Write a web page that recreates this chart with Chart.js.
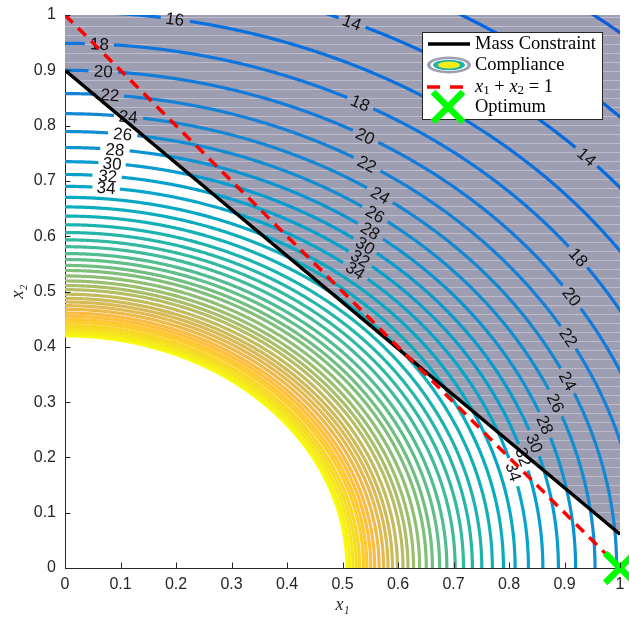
<!DOCTYPE html>
<html><head><meta charset="utf-8">
<script src="https://cdn.jsdelivr.net/npm/chart.js@4/dist/chart.umd.min.js"></script>
<style>html,body{margin:0;padding:0;background:#fff}</style>
</head><body>
<canvas id="c" width="629" height="626"></canvas>
<script>
// ---------- data ----------
const levels = [10,12,14,16,18,20,22,24,26,28,30,32,34,36,38,40,42,44,46,48,50,52,54,56,58,60,62,64,66,68,70,72,74,76,78,80,82,84,86,88,90,92];
// where each compliance contour meets the x1 axis (x2 = 0)
const x1Intercepts = [1.540,1.405,1.301,1.217,1.148,1.089,1.038,0.994,0.955,0.920,0.889,0.861,0.835,0.811,0.790,0.770,0.751,0.734,0.718,0.703,0.688,0.675,0.662,0.651,0.639,0.628,0.618,0.609,0.599,0.590,0.582,0.574,0.566,0.558,0.551,0.544,0.538,0.531,0.525,0.519,0.513,0.508];
// x2-axis crossing / x1-axis crossing for every contour
const axisRatio = 0.8265;
// contour labels: level and x1 of the label centre
const labelLevels = [16,18,20,22,24,26,28,30,32,34, 14,18,20,22,24,26,28,30,32,34, 14,18,20,22,24,26,28,30,32,34];
const labelX1 =     [0.198,0.062,0.069,0.081,0.114,0.104,0.090,0.085,0.077,0.074,
                     0.517,0.532,0.541,0.544,0.568,0.559,0.550,0.541,0.532,0.523,
                     0.940,0.925,0.913,0.907,0.906,0.884,0.865,0.846,0.826,0.808];
const massX = [0, 1];
const massY = [0.9, 0.061];
const sumX = [0, 1];
const sumY = [1, 0];
const optimumX = [1];
const optimumY = [0];
const tickValues = [0,0.1,0.2,0.3,0.4,0.5,0.6,0.7,0.8,0.9,1];
const tickLabels = ['0','0.1','0.2','0.3','0.4','0.5','0.6','0.7','0.8','0.9','1'];
const colorMin = 0, colorMax = 92;

// ---------- parula colormap ----------
const PARULA=[[0.2081,0.1663,0.5292],[0.2116,0.1898,0.5777],[0.2123,0.2138,0.6270],[0.2081,0.2386,0.6771],[0.1959,0.2645,0.7279],[0.1707,0.2919,0.7792],[0.1253,0.3242,0.8303],[0.0591,0.3598,0.8683],[0.0117,0.3875,0.8820],[0.0060,0.4086,0.8828],[0.0165,0.4266,0.8786],[0.0329,0.4430,0.8720],[0.0498,0.4586,0.8641],[0.0629,0.4737,0.8554],[0.0723,0.4887,0.8467],[0.0779,0.5040,0.8384],[0.0793,0.5200,0.8312],[0.0749,0.5375,0.8263],[0.0641,0.5570,0.8240],[0.0488,0.5772,0.8228],[0.0343,0.5966,0.8199],[0.0265,0.6137,0.8135],[0.0239,0.6287,0.8038],[0.0231,0.6418,0.7913],[0.0228,0.6535,0.7768],[0.0267,0.6642,0.7607],[0.0384,0.6743,0.7436],[0.0590,0.6838,0.7254],[0.0843,0.6928,0.7062],[0.1133,0.7015,0.6859],[0.1453,0.7098,0.6646],[0.1801,0.7177,0.6424],[0.2178,0.7250,0.6193],[0.2586,0.7317,0.5954],[0.3022,0.7376,0.5712],[0.3482,0.7424,0.5473],[0.3953,0.7459,0.5244],[0.4420,0.7481,0.5033],[0.4871,0.7491,0.4840],[0.5300,0.7491,0.4661],[0.5709,0.7485,0.4494],[0.6099,0.7473,0.4337],[0.6473,0.7456,0.4188],[0.6834,0.7435,0.4044],[0.7184,0.7411,0.3905],[0.7525,0.7384,0.3768],[0.7858,0.7356,0.3633],[0.8185,0.7327,0.3498],[0.8507,0.7299,0.3360],[0.8824,0.7274,0.3217],[0.9139,0.7258,0.3063],[0.9450,0.7261,0.2886],[0.9739,0.7314,0.2666],[0.9938,0.7455,0.2403],[0.9990,0.7653,0.2164],[0.9955,0.7861,0.1967],[0.9880,0.8066,0.1794],[0.9789,0.8271,0.1633],[0.9697,0.8481,0.1475],[0.9626,0.8705,0.1309],[0.9589,0.8949,0.1132],[0.9598,0.9218,0.0948],[0.9661,0.9514,0.0755],[0.9763,0.9831,0.0538]];
function parula(t){
  t=Math.max(0,Math.min(1,t)); const f=t*63, i=Math.floor(f), j=Math.min(63,i+1), u=f-i;
  const c=PARULA[i].map((v,k)=>Math.round((v+(PARULA[j][k]-v)*u)*255));
  return 'rgb('+c.join(',')+')';
}

// ---------- geometry helpers ----------
const PXU_X = 555, PXU_Y = 553;   // approx. pixels per unit (for label gaps only)
const GAP_R = 13.5;
function onContour(li, x){ const a=x1Intercepts[li], b=a*axisRatio; return b*Math.sqrt(Math.max(0,1-(x*x)/(a*a))); }
function contourPoints(li){
  const a=x1Intercepts[li], b=a*axisRatio, lev=levels[li];
  const labs=[];
  labelLevels.forEach((L,k)=>{ if(L===lev) labs.push([labelX1[k], onContour(li,labelX1[k])]); });
  const N=Math.ceil(a*PXU_X*1.6/2);
  const pts=[]; let inGap=false;
  for(let k=0;k<=N;k++){
    const t=k/N*Math.PI/2, x=a*Math.cos(t), y=b*Math.sin(t);
    if(x>1.01||y>1.01) continue;
    const g=labs.some(p=>Math.hypot((x-p[0])*PXU_X,(y-p[1])*PXU_Y)<GAP_R);
    if(g){ if(!inGap){pts.push({x:x,y:null}); inGap=true;} continue; }
    inGap=false; pts.push({x:x,y:y});
  }
  return pts;
}

// striped grey pattern for the infeasible region
const pc=document.createElement('canvas'); pc.width=8; pc.height=9;
const pctx=pc.getContext('2d'); pctx.fillStyle='rgb(158,158,178)'; pctx.fillRect(0,0,8,9);
pctx.fillStyle='rgb(188,188,204)'; pctx.fillRect(0,8,8,1);
const greyPattern=pctx.createPattern(pc,'repeat');

const datasets=[];
datasets.push({data:massX.map((x,i)=>({x:x,y:massY[i]})), borderWidth:0, pointRadius:0, fill:'end', backgroundColor:greyPattern, order:100});
levels.forEach((lev,li)=>{
  datasets.push({data:contourPoints(li), borderColor:parula((lev-colorMin)/(colorMax-colorMin)), borderWidth:3.2,
    pointRadius:0, fill:false, tension:0.0001, clip:0, order:50, borderCapStyle:'butt'});
});
datasets.push({data:massX.map((x,i)=>({x:x,y:massY[i]})), borderColor:'#000', borderWidth:3.5, pointRadius:0, fill:false, order:10, clip:0});
datasets.push({data:sumX.map((x,i)=>({x:x,y:sumY[i]})), borderColor:'#ff0000', borderWidth:3.5, borderDash:[11,7.5], pointRadius:0, fill:false, order:5, clip:0});
datasets.push({data:optimumX.map((x,i)=>({x:x,y:optimumY[i]})), showLine:false, pointStyle:'crossRot', pointRadius:21,
  pointBorderWidth:6.5, pointBorderColor:'#00ff00', pointBackgroundColor:'#00ff00', order:1, clip:false});

const TXT='#262626';
const tickFont={family:"'Liberation Sans', Arial, Helvetica, sans-serif", size:16};

const plugin={
  id:'extras',
  afterDatasetDraw(chart,args){
    if(args.index!==1) return;
    const ctx=chart.ctx, xs=chart.scales.x, ys=chart.scales.y;
    const sx=(xs.getPixelForValue(1)-xs.getPixelForValue(0)), sy=(ys.getPixelForValue(0)-ys.getPixelForValue(1));
    ctx.save();
    ctx.font="17px 'Liberation Sans', Arial, sans-serif"; ctx.fillStyle='#111'; ctx.textAlign='center'; ctx.textBaseline='middle';
    labelLevels.forEach((lev,k)=>{
      const li=levels.indexOf(lev), a=x1Intercepts[li], b=a*axisRatio, x=labelX1[k], y=onContour(li,x);
      const slope=(b*b*x)/(a*a*Math.max(y,1e-6))*(sy/sx);
      const ang=Math.atan(slope);
      ctx.save(); ctx.translate(xs.getPixelForValue(x), ys.getPixelForValue(y)); ctx.rotate(ang);
      ctx.fillText(String(lev),0,1); ctx.restore();
    });
    ctx.restore();
  },
  afterDraw(chart){
    const ctx=chart.ctx, ca=chart.chartArea, xs=chart.scales.x, ys=chart.scales.y;
    ctx.save();
    // inward ticks
    ctx.strokeStyle=TXT; ctx.lineWidth=1;
    tickValues.forEach(v=>{
      const px=Math.round(xs.getPixelForValue(v))+0.5;
      ctx.beginPath(); ctx.moveTo(px,ca.bottom); ctx.lineTo(px,ca.bottom-5.5); ctx.stroke();
      const py=Math.round(ys.getPixelForValue(v))+0.5;
      ctx.beginPath(); ctx.moveTo(ca.left,py); ctx.lineTo(ca.left+5.5,py); ctx.stroke();
    });
    // legend
    const L=ca.right-198, T=ca.top+17, W=180, H=87;
    ctx.fillStyle='#fff'; ctx.fillRect(L,T,W,H);
    ctx.strokeStyle=TXT; ctx.lineWidth=1; ctx.strokeRect(L+0.5,T+0.5,W,H);
    // mass
    ctx.strokeStyle='#000'; ctx.lineWidth=3.5; ctx.beginPath(); ctx.moveTo(L+6,T+12); ctx.lineTo(L+48,T+12); ctx.stroke();
    // compliance icon
    const ex=L+27, ey=T+33;
    const ell=(rx,ry,col)=>{ctx.fillStyle=col; ctx.beginPath(); ctx.ellipse(ex,ey,rx,ry,0,0,Math.PI*2); ctx.fill();};
    ell(22,8.5,'rgb(158,158,178)'); ell(18.5,6,'#fff'); ell(16,5.3,'rgb(35,178,170)'); ell(11,3.6,'rgb(248,238,20)');
    // x1+x2=1 dashes
    ctx.strokeStyle='#ff0000'; ctx.lineWidth=3.5;
    ctx.beginPath(); ctx.moveTo(L+5,T+55); ctx.lineTo(L+18,T+55); ctx.moveTo(L+28,T+55); ctx.lineTo(L+41,T+55); ctx.stroke();
    // optimum X
    ctx.strokeStyle='#00ff00'; ctx.lineWidth=6.5; const cx=L+26, cy=T+75, h=15;
    ctx.beginPath(); ctx.moveTo(cx-h,cy-h); ctx.lineTo(cx+h,cy+h); ctx.moveTo(cx-h,cy+h); ctx.lineTo(cx+h,cy-h); ctx.stroke();
    // legend text
    const serif="'Liberation Serif','Times New Roman',serif";
    ctx.fillStyle='#000'; ctx.textBaseline='middle'; ctx.textAlign='left';
    ctx.font='18.5px '+serif;
    const tx=L+53;
    ctx.fillText('Mass Constraint',tx,T+12);
    ctx.fillText('Compliance',tx,T+33);
    ctx.fillText('Optimum',tx,T+75);
    // math entry
    let x=tx; const my=T+55;
    const put=(s,font,dy)=>{ctx.font=font; ctx.fillText(s,x,my+(dy||0)); x+=ctx.measureText(s).width;};
    put('x','italic 18.5px '+serif); put('1','13px '+serif,4); put(' + ','18.5px '+serif);
    put('x','italic 18.5px '+serif); put('2','13px '+serif,4); put(' = 1','18.5px '+serif);
    ctx.restore();
  }
};

new Chart(document.getElementById('c'),{
  type:'line',
  data:{datasets:datasets},
  options:{
    responsive:false, animation:false, devicePixelRatio:1,
    events:[],
    layout:{autoPadding:false, padding:{top:15,right:9,left:0,bottom:0}},
    plugins:{legend:{display:false},tooltip:{enabled:false}},
    scales:{
      x:{type:'linear',min:0,max:1,z:1,
        afterFit(s){s.height=58; s.paddingLeft=0; s.paddingRight=0;},
        ticks:{stepSize:0.1,autoSkip:false,maxRotation:0,padding:7,color:TXT,font:tickFont,
          callback:v=>{const i=tickValues.findIndex(t=>Math.abs(t-v)<1e-9); return i<0?'':tickLabels[i];}},
        grid:{display:false,drawTicks:false},
        border:{display:true,color:TXT,width:1},
        title:{display:true,text:'x₁',color:TXT,font:{family:"'Liberation Serif',serif",style:'italic',size:18},padding:{bottom:10,top:0}}
      },
      y:{type:'linear',min:0,max:1,z:1,
        afterFit(s){s.width=65; s.paddingTop=0; s.paddingBottom=0;},
        ticks:{stepSize:0.1,autoSkip:false,padding:9,color:TXT,font:tickFont,
          callback:v=>{const i=tickValues.findIndex(t=>Math.abs(t-v)<1e-9); return i<0?'':tickLabels[i];}},
        grid:{display:false,drawTicks:false},
        border:{display:true,color:TXT,width:1},
        title:{display:true,text:'x₂',color:TXT,font:{family:"'Liberation Serif',serif",style:'italic',size:18},padding:{top:7,bottom:0}}
      }
    }
  },
  plugins:[plugin]
});
</script>
</body></html>
